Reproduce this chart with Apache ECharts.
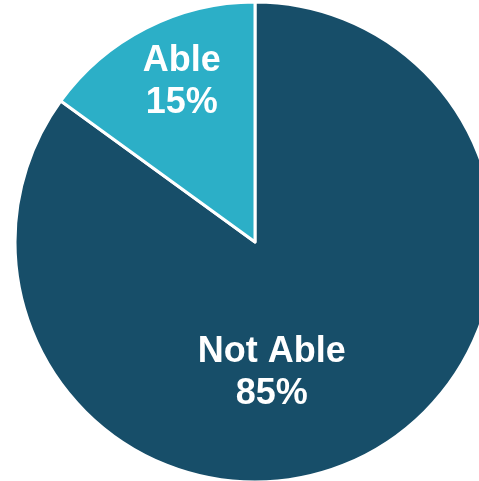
<!DOCTYPE html>
<html>
<head>
<meta charset="utf-8">
<style>
  html, body { margin: 0; padding: 0; background: #ffffff; }
  #chart { width: 479px; height: 481px; }
</style>
<script src="https://cdn.jsdelivr.net/npm/echarts@6/dist/echarts.min.js"></script>
</head>
<body>
<div id="chart"></div>
<script>
// Share of respondents who are able / not able
const categories = ['Not Able', 'Able'];
const percents = [85, 15];
const colors = ['#174E69', '#2CAFC7'];

// Label anchor points relative to the pie centre, as fractions of the radius
const labelAnchors = [[0.07, 0.545], [-0.305, -0.665]];

const cx = 255, cy = 242, r = 240;

const chart = echarts.init(document.getElementById('chart'), null, { renderer: 'canvas' });
chart.setOption({
  animation: false,
  series: [{
    type: 'pie',
    center: [cx, cy],
    radius: [0, r],
    startAngle: 90,
    clockwise: true,
    silent: true,
    itemStyle: { borderColor: '#ffffff', borderWidth: 3 },
    label: {
      show: true,
      position: 'inside',
      formatter: p => p.name + '\n' + p.value + '%',
      color: '#ffffff',
      fontFamily: "'Liberation Sans', Arial, sans-serif",
      fontWeight: 'bold',
      fontSize: 36,
      lineHeight: 42,
      align: 'center',
      verticalAlign: 'middle'
    },
    labelLine: { show: false },
    labelLayout: p => ({
      x: cx + labelAnchors[p.dataIndex][0] * r,
      y: cy + labelAnchors[p.dataIndex][1] * r,
      align: 'center',
      verticalAlign: 'middle'
    }),
    data: categories.map((name, i) => ({
      name,
      value: percents[i],
      itemStyle: { color: colors[i] }
    }))
  }]
});
</script>
</body>
</html>
